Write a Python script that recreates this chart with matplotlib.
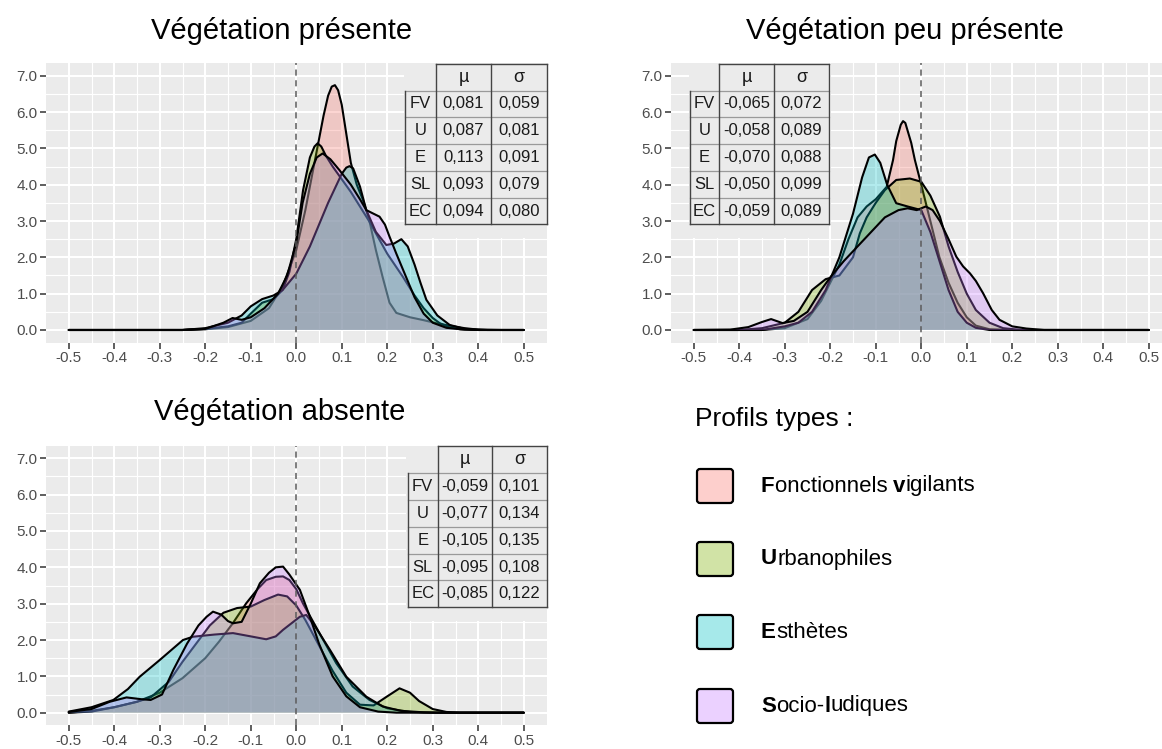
import matplotlib
matplotlib.use("Agg")
import matplotlib.pyplot as plt
from matplotlib.patches import Rectangle, FancyBboxPatch
from matplotlib.colors import to_rgb

plt.rcParams['font.family'] = ['Liberation Sans', 'DejaVu Sans']
plt.rcParams['axes.unicode_minus'] = False

W, H = 1162, 749
BG = '#EBEBEB'

# ---- profiles ----
profiles = ["FV", "U", "E", "SL"]
colors = ["#F8766D", "#7CAE00", "#00BFC4", "#C77CFF"]
table_rows = ["FV", "U", "E", "SL", "EC"]

# ---- Végétation présente : density curves ----
pres_fv_x = [-0.5, -0.25, -0.2, -0.15, -0.1, -0.06, -0.03, 0.0, 0.02, 0.04, 0.06, 0.07, 0.078, 0.085, 0.092,
             0.1, 0.11, 0.12, 0.133, 0.146, 0.16, 0.175, 0.19, 0.205, 0.22, 0.25, 0.28, 0.31, 0.337, 0.37,
             0.4, 0.45, 0.5]
pres_fv_y = [0, 0, 0.02, 0.08, 0.25, 0.6, 1.2, 2.2, 3.3, 4.6, 5.9, 6.45, 6.7, 6.74, 6.6,
             6.2, 5.4, 4.6, 4.0, 3.6, 3.05, 2.2, 1.45, 0.75, 0.47, 0.35, 0.27, 0.18, 0.12, 0.05,
             0.01, 0, 0]
pres_u_x = [-0.5, -0.25, -0.2, -0.15, -0.12, -0.1, -0.075, -0.05, -0.03, -0.015, 0.0, 0.015, 0.03, 0.04,
            0.047, 0.055, 0.065, 0.08, 0.1, 0.12, 0.16, 0.2, 0.234, 0.26, 0.28, 0.3, 0.315, 0.335, 0.36,
            0.4, 0.5]
pres_u_y = [0, 0, 0.03, 0.1, 0.2, 0.45, 0.75, 0.85, 1.1, 1.6, 2.5, 3.85, 4.75, 5.05,
            5.14, 5.05, 4.8, 4.5, 4.15, 3.8, 3.0, 2.1, 1.47, 0.95, 0.6, 0.33, 0.19, 0.08, 0.02,
            0, 0]
pres_e_x = [-0.5, -0.25, -0.2, -0.15, -0.12, -0.1, -0.075, -0.05, -0.03, 0.0, 0.03, 0.07, 0.1, 0.11, 0.117,
            0.125, 0.14, 0.154, 0.175, 0.198, 0.215, 0.231, 0.245, 0.26, 0.273, 0.286, 0.31, 0.337, 0.37,
            0.42, 0.5]
pres_e_y = [0, 0, 0.05, 0.2, 0.4, 0.65, 0.85, 0.95, 1.1, 1.55, 2.3, 3.5, 4.3, 4.47, 4.51,
            4.45, 3.95, 3.3, 2.7, 2.34, 2.38, 2.5, 2.3, 1.8, 1.3, 0.83, 0.4, 0.14, 0.03,
            0, 0]
pres_sl_x = [-0.5, -0.25, -0.2, -0.16, -0.14, -0.12, -0.1, -0.07, -0.04, -0.02, 0.0, 0.014, 0.03, 0.045,
             0.058, 0.075, 0.095, 0.12, 0.14, 0.154, 0.17, 0.183, 0.195, 0.205, 0.22, 0.24, 0.26, 0.28,
             0.3, 0.33, 0.37, 0.4, 0.5]
pres_sl_y = [0, 0, 0.03, 0.2, 0.33, 0.28, 0.35, 0.6, 1.0, 1.5, 2.4, 3.5, 4.3, 4.75,
             4.86, 4.7, 4.4, 4.0, 3.6, 3.3, 3.2, 3.12, 2.9, 2.57, 2.1, 1.5, 0.9, 0.45,
             0.2, 0.06, 0.01, 0, 0]
pres_mu = ["0,081", "0,087", "0,113", "0,093", "0,094"]
pres_sigma = ["0,059", "0,081", "0,091", "0,079", "0,080"]

# ---- Végétation peu présente ----
peu_fv_x = [-0.5, -0.35, -0.3, -0.25, -0.22, -0.2, -0.18, -0.16, -0.14, -0.12, -0.1, -0.076, -0.062, -0.055,
            -0.045, -0.04, -0.035, -0.022, -0.014, 0.0, 0.02, 0.04, 0.06, 0.08, 0.1, 0.12, 0.15, 0.2, 0.5]
peu_fv_y = [0, 0, 0.05, 0.3, 0.8, 1.3, 1.8, 2.5, 3.1, 3.4, 3.6, 3.94, 4.68, 5.2,
            5.65, 5.75, 5.7, 5.15, 4.68, 4.0, 3.0, 2.0, 1.3, 0.75, 0.35, 0.12, 0.02, 0, 0]
peu_u_x = [-0.5, -0.4, -0.35, -0.3, -0.27, -0.24, -0.21, -0.18, -0.15, -0.135, -0.12, -0.1, -0.08, -0.055,
           -0.025, 0.0, 0.02, 0.041, 0.06, 0.08, 0.1, 0.12, 0.15, 0.18, 0.22, 0.5]
peu_u_y = [0, 0, 0.05, 0.2, 0.5, 1.1, 1.4, 1.5, 2.0, 2.66, 3.1, 3.5, 3.85, 4.13,
           4.17, 4.08, 3.7, 3.12, 2.3, 1.6, 1.0, 0.55, 0.2, 0.05, 0, 0]
peu_e_x = [-0.5, -0.35, -0.3, -0.27, -0.24, -0.21, -0.18, -0.15, -0.13, -0.115, -0.102, -0.09, -0.075, -0.055,
           -0.03, 0.0, 0.02, 0.04, 0.06, 0.08, 0.1, 0.12, 0.15, 0.5]
peu_e_y = [0, 0, 0.1, 0.2, 0.5, 1.1, 2.0, 3.2, 4.2, 4.75, 4.83, 4.6, 4.0, 3.49,
           3.4, 3.3, 2.7, 1.9, 1.1, 0.5, 0.2, 0.06, 0, 0]
peu_sl_x = [-0.5, -0.42, -0.38, -0.35, -0.33, -0.305, -0.28, -0.25, -0.22, -0.2, -0.17, -0.14, -0.11, -0.08,
            -0.05, -0.03, -0.01, 0.01, 0.025, 0.041, 0.06, 0.077, 0.092, 0.107, 0.12, 0.136, 0.155, 0.172,
            0.2, 0.231, 0.27, 0.5]
peu_sl_y = [0, 0.01, 0.08, 0.22, 0.3, 0.19, 0.25, 0.5, 1.1, 1.45, 1.9, 2.3, 2.7, 3.1,
            3.3, 3.35, 3.3, 3.4, 3.3, 3.0, 2.5, 2.02, 1.75, 1.56, 1.35, 1.01, 0.55, 0.28,
            0.1, 0.04, 0, 0]
peu_mu = ["-0,065", "-0,058", "-0,070", "-0,050", "-0,059"]
peu_sigma = ["0,072", "0,089", "0,088", "0,099", "0,089"]

# ---- Végétation absente ----
abs_fv_x = [-0.5, -0.45, -0.4, -0.35, -0.3, -0.25, -0.2, -0.17, -0.14, -0.11, -0.085, -0.066, -0.045, -0.029,
            -0.015, 0.0, 0.015, 0.051, 0.088, 0.124, 0.161, 0.2, 0.25, 0.3, 0.5]
abs_fv_y = [0, 0.05, 0.15, 0.3, 0.55, 0.95, 1.5, 1.95, 2.45, 3.01, 3.4, 3.65, 3.74, 3.75,
            3.65, 3.4, 3.0, 2.19, 1.36, 0.72, 0.35, 0.12, 0.02, 0, 0]
abs_u_x = [-0.5, -0.45, -0.4, -0.35, -0.32, -0.28, -0.25, -0.22, -0.19, -0.16, -0.13, -0.1, -0.07, -0.04,
           -0.02, 0.0, 0.02, 0.05, 0.08, 0.11, 0.14, 0.17, 0.2, 0.227, 0.25, 0.27, 0.3, 0.33, 0.36, 0.5]
abs_u_y = [0, 0.03, 0.15, 0.3, 0.42, 0.85, 1.4, 1.9, 2.4, 2.75, 2.88, 2.92, 3.1, 3.25,
           3.2, 2.95, 2.55, 1.85, 1.15, 0.55, 0.22, 0.2, 0.45, 0.67, 0.55, 0.32, 0.1, 0.02, 0, 0]
abs_e_x = [-0.5, -0.45, -0.402, -0.37, -0.344, -0.3, -0.249, -0.227, -0.18, -0.139, -0.1, -0.066, -0.045,
           -0.029, 0.008, 0.022, 0.04, 0.074, 0.11, 0.154, 0.19, 0.23, 0.28, 0.32, 0.5]
abs_e_y = [0.03, 0.15, 0.35, 0.65, 0.99, 1.45, 2.0, 2.09, 2.15, 2.19, 2.1, 2.02, 2.1,
           2.28, 2.64, 2.69, 2.4, 1.73, 0.99, 0.44, 0.17, 0.05, 0.01, 0, 0]
abs_sl_x = [-0.5, -0.45, -0.41, -0.373, -0.34, -0.32, -0.295, -0.27, -0.24, -0.215, -0.197, -0.183, -0.165,
            -0.15, -0.139, -0.12, -0.1, -0.08, -0.06, -0.045, -0.029, -0.015, 0.008, 0.03, 0.05, 0.08,
            0.11, 0.14, 0.18, 0.22, 0.5]
abs_sl_y = [0.02, 0.1, 0.3, 0.42, 0.37, 0.35, 0.5, 1.18, 1.9, 2.4, 2.64, 2.78, 2.7,
            2.52, 2.46, 2.5, 3.0, 3.56, 3.85, 4.0, 4.02, 3.8, 3.38, 2.64, 1.9, 1.0,
            0.45, 0.15, 0.03, 0, 0]
abs_mu = ["-0,059", "-0,077", "-0,105", "-0,095", "-0,085"]
abs_sigma = ["0,101", "0,134", "0,135", "0,108", "0,122"]

x_tick_labels = ["-0.5", "-0.4", "-0.3", "-0.2", "-0.1", "0.0", "0.1", "0.2", "0.3", "0.4", "0.5"]
y_tick_labels = ["0.0", "1.0", "2.0", "3.0", "4.0", "5.0", "6.0", "7.0"]

legend_parts = [
    [("F", "bold"), ("onctionnels ", "normal"), ("v", "bold"), ("igilants", "normal")],
    [("U", "bold"), ("rbanophiles", "normal")],
    [("E", "bold"), ("sthètes", "normal")],
    [("S", "bold"), ("ocio-", "normal"), ("l", "bold"), ("udiques", "normal")],
]

fig = plt.figure(figsize=(W / 100, H / 100), dpi=100)


def px_axes(left, top, right, bottom):
    return fig.add_axes([left / W, 1 - bottom / H, (right - left) / W, (bottom - top) / H])


def draw_panel(ax, curves):
    ax.set_facecolor(BG)
    for sp in ax.spines.values():
        sp.set_visible(False)
    for i, ((xs, ys), c) in enumerate(zip(curves, colors)):
        ax.fill_between(xs, ys, 0, facecolor=c, alpha=0.3, lw=0, zorder=2 + 2 * i)
        ax.plot(xs, ys, color='black', lw=1.5, zorder=3 + 2 * i,
                solid_joinstyle='round', solid_capstyle='round')
    ax.axvline(0, color='#5a5a5a', lw=1.1, ls=(0, (4, 3)), zorder=20)
    xt = [float(t) for t in x_tick_labels]
    yt = [float(t) for t in y_tick_labels]
    ax.set_xticks(xt)
    ax.set_xticklabels(x_tick_labels)
    ax.set_yticks(yt)
    ax.set_yticklabels(y_tick_labels)
    ax.set_xticks([v + 0.05 for v in xt[:-1]], minor=True)
    ax.set_yticks([v + 0.5 for v in yt[:-1]], minor=True)
    ax.set_xlim(-0.55, 0.55)
    ax.set_ylim(-0.35, 7.35)
    ax.set_axisbelow(True)
    ax.grid(which='major', color='white', lw=1.5)
    ax.grid(which='minor', color='white', lw=0.8)
    ax.tick_params(which='major', length=4, width=1.1, color='#333333',
                   labelcolor='#4D4D4D', labelsize=11, pad=2)
    ax.tick_params(which='minor', length=0)


ax1 = px_axes(46, 63, 546.5, 342.7)
draw_panel(ax1, [(pres_fv_x, pres_fv_y), (pres_u_x, pres_u_y), (pres_e_x, pres_e_y), (pres_sl_x, pres_sl_y)])
ax2 = px_axes(671, 63, 1171.5, 342.7)
draw_panel(ax2, [(peu_fv_x, peu_fv_y), (peu_u_x, peu_u_y), (peu_e_x, peu_e_y), (peu_sl_x, peu_sl_y)])
ax3 = px_axes(46, 445.6, 546.5, 725.4)
draw_panel(ax3, [(abs_fv_x, abs_fv_y), (abs_u_x, abs_u_y), (abs_e_x, abs_e_y), (abs_sl_x, abs_sl_y)])

# overlay in pixel coordinates for titles, tables and legend
ov = fig.add_axes([0, 0, 1, 1], zorder=50)
ov.set_xlim(0, W)
ov.set_ylim(H, 0)
ov.axis('off')
ov.patch.set_alpha(0)

ov.text(282, 31, "Végétation présente", ha='center', va='center', fontsize=21)
ov.text(905, 31, "Végétation peu présente", ha='center', va='center', fontsize=21)
ov.text(280, 412, "Végétation absente", ha='center', va='center', fontsize=21)


def draw_table(cols, rows, cover, mus, sigmas):
    x0, x1, y0, y1 = cover
    ov.add_patch(Rectangle((x0, y0), x1 - x0, y1 - y0, facecolor=BG, edgecolor='none', zorder=1))
    dark, light = '#444444', '#9a9a9a'
    for r in rows[1:-1]:
        ov.plot([cols[0], cols[3]], [r, r], color=light, lw=0.9, zorder=2)
    ov.plot([cols[1], cols[3]], [rows[0], rows[0]], color=dark, lw=1.0, zorder=3)
    ov.plot([cols[0], cols[3]], [rows[-1], rows[-1]], color=dark, lw=1.0, zorder=3)
    ov.plot([cols[0], cols[0]], [rows[1], rows[-1]], color=dark, lw=1.0, zorder=3)
    for c in cols[1:]:
        ov.plot([c, c], [rows[0], rows[-1]], color=dark, lw=1.0, zorder=3)
    cx = [(cols[i] + cols[i + 1]) / 2 for i in range(3)]
    ov.text(cx[1], (rows[0] + rows[1]) / 2, "µ", ha='center', va='center', fontsize=13, color='#1a1a1a')
    ov.text(cx[2], (rows[0] + rows[1]) / 2, "σ", ha='center', va='center', fontsize=13, color='#1a1a1a')
    for i, (lab, m, s) in enumerate(zip(table_rows, mus, sigmas)):
        yc = (rows[i + 1] + rows[i + 2]) / 2
        ov.text(cx[0], yc, lab, ha='center', va='center', fontsize=12, color='#1a1a1a')
        ov.text(cx[1], yc, m, ha='center', va='center', fontsize=12, color='#1a1a1a')
        ov.text(cx[2], yc, s, ha='center', va='center', fontsize=12, color='#1a1a1a')


top_rows = [64, 90.7, 117.3, 144, 171, 197.7, 224.3]
draw_table([405, 436, 491, 547], top_rows, (404, 547, 63, 238), pres_mu, pres_sigma)
draw_table([690, 719.3, 774.3, 828.7], top_rows, (689, 829, 63, 238), peu_mu, peu_sigma)
draw_table([407.7, 437.7, 492, 546.7], [446, 472.7, 500, 526.7, 553.7, 580.3, 606.7],
           (406, 547, 445.6, 621), abs_mu, abs_sigma)

# legend
ov.text(695, 419, "Profils types :", ha='left', va='center', fontsize=19)
key_centers = [486, 559, 632, 706]
for c, parts, yc in zip(colors, legend_parts, key_centers):
    rgb = to_rgb(c)
    face = tuple(0.35 * v + 0.65 for v in rgb)
    ov.add_patch(FancyBboxPatch((697, yc - 17), 36, 34, boxstyle="round,pad=0,rounding_size=3",
                                facecolor=face, edgecolor='black', lw=1.6))
    prev = None
    for txt, wt in parts:
        if prev is None:
            prev = ov.text(761, yc, txt, ha='left', va='center', fontsize=16, fontweight=wt)
        else:
            prev = ov.annotate(txt, xy=(1, 0.5), xycoords=prev, ha='left', va='center',
                               fontsize=16, fontweight=wt)

fig.savefig("out.png", dpi=100)
